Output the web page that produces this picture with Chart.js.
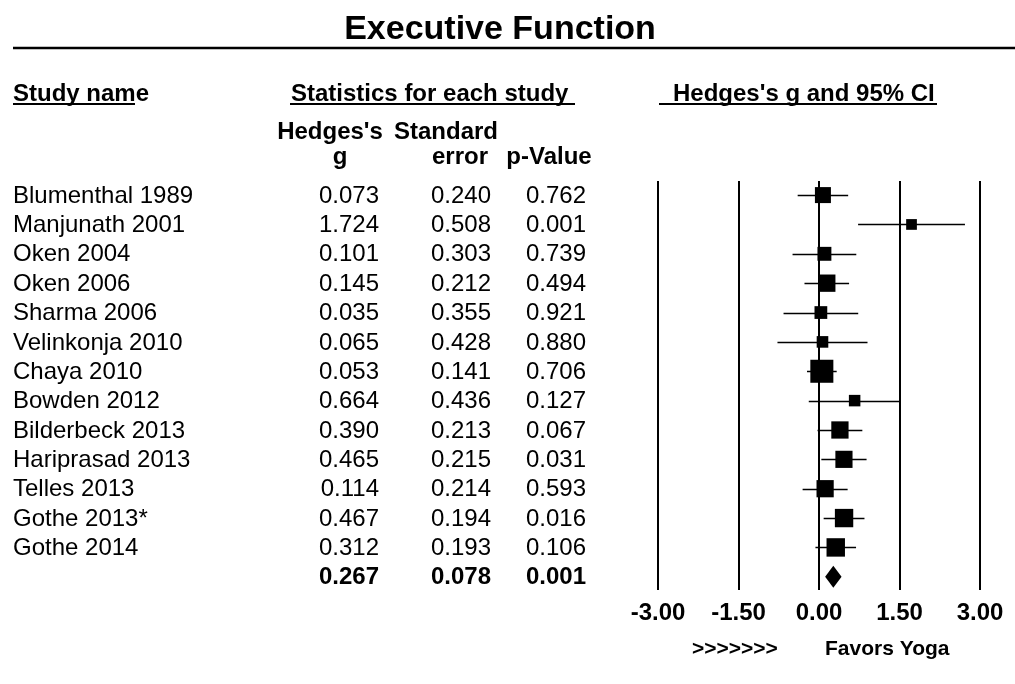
<!DOCTYPE html>
<html>
<head>
<meta charset="utf-8">
<script src="https://cdn.jsdelivr.net/npm/chart.js@4.4.1/dist/chart.umd.min.js"></script>
<style>
  body { margin: 0; background: #fff; }
  canvas { display: block; }
</style>
</head>
<body>
<canvas id="forestChart" width="1015" height="684"></canvas>
<script>
// study data
var studies = ["Blumenthal 1989", "Manjunath 2001", "Oken 2004", "Oken 2006", "Sharma 2006",
    "Velinkonja 2010", "Chaya 2010", "Bowden 2012", "Bilderbeck 2013", "Hariprasad 2013",
    "Telles 2013", "Gothe 2013*", "Gothe 2014"];
var hedgesG = [0.073, 1.724, 0.101, 0.145, 0.035, 0.065, 0.053, 0.664, 0.390, 0.465, 0.114, 0.467, 0.312];
var stdErr = [0.240, 0.508, 0.303, 0.212, 0.355, 0.428, 0.141, 0.436, 0.213, 0.215, 0.214, 0.194, 0.193];
var pValue = [0.762, 0.001, 0.739, 0.494, 0.921, 0.880, 0.706, 0.127, 0.067, 0.031, 0.593, 0.016, 0.106];

// pooled result
var summaryG = [0.267];
var summarySE = [0.078];
var summaryP = [0.001];

var xTicks = [-3, -1.5, 0, 1.5, 3];

var FONT = "Arial, 'Liberation Sans', sans-serif";

var points = hedgesG.map(function (g, i) { return { x: g, y: i }; });
var summaryRow = studies.length;

// lines, diamond and table text
var forestPlugin = {
    id: 'forest',
    beforeDatasetsDraw: function (chart) {
        var ctx = chart.ctx, x = chart.scales.x, y = chart.scales.y;
        ctx.save();
        ctx.strokeStyle = '#000';
        ctx.lineWidth = 1.5;
        hedgesG.forEach(function (g, i) {
            var lo = g - 1.96 * stdErr[i], hi = g + 1.96 * stdErr[i];
            var py = Math.round(y.getPixelForValue(i)) + 0.5;
            ctx.beginPath();
            ctx.moveTo(x.getPixelForValue(lo), py);
            ctx.lineTo(x.getPixelForValue(hi), py);
            ctx.stroke();
        });
        // summary diamond
        var sg = summaryG[0], sse = summarySE[0];
        var cy = y.getPixelForValue(summaryRow);
        ctx.fillStyle = '#000';
        ctx.beginPath();
        ctx.moveTo(x.getPixelForValue(sg - 1.96 * sse), cy);
        ctx.lineTo(x.getPixelForValue(sg), cy - 11);
        ctx.lineTo(x.getPixelForValue(sg + 1.96 * sse), cy);
        ctx.lineTo(x.getPixelForValue(sg), cy + 11);
        ctx.closePath();
        ctx.fill();
        ctx.restore();
    },
    afterDraw: function (chart) {
        var ctx = chart.ctx, y = chart.scales.y;
        ctx.save();
        ctx.fillStyle = '#000';
        ctx.strokeStyle = '#000';

        // title
        ctx.font = 'bold 34px ' + FONT;
        ctx.textAlign = 'center';
        ctx.textBaseline = 'alphabetic';
        ctx.fillText('Executive Function', 500, 39);
        ctx.lineWidth = 2.5;
        ctx.beginPath();
        ctx.moveTo(13, 48);
        ctx.lineTo(1015, 48);
        ctx.stroke();

        // group headers with underlines
        ctx.font = 'bold 24px ' + FONT;
        ctx.textAlign = 'left';
        ctx.fillText('Study name', 13, 101);
        ctx.fillText('Statistics for each study', 291, 101);
        ctx.fillText("Hedges's g and 95% CI", 673, 101);
        ctx.lineWidth = 2;
        [[13, 135], [290, 575], [659, 937]].forEach(function (u) {
            ctx.beginPath();
            ctx.moveTo(u[0], 104);
            ctx.lineTo(u[1], 104);
            ctx.stroke();
        });

        // column headers
        ctx.textAlign = 'center';
        ctx.fillText("Hedges's", 330, 139);
        ctx.fillText('g', 340, 164);
        ctx.fillText('Standard', 446, 139);
        ctx.fillText('error', 460, 164);
        ctx.fillText('p-Value', 549, 164);

        // table rows
        ctx.textBaseline = 'middle';
        ctx.font = '24px ' + FONT;
        studies.forEach(function (name, i) {
            var py = y.getPixelForValue(i) + 1;
            ctx.textAlign = 'left';
            ctx.fillText(name, 13, py);
            ctx.textAlign = 'right';
            ctx.fillText(hedgesG[i].toFixed(3), 379, py);
            ctx.fillText(stdErr[i].toFixed(3), 491, py);
            ctx.fillText(pValue[i].toFixed(3), 586, py);
        });
        ctx.font = 'bold 24px ' + FONT;
        var sy = y.getPixelForValue(summaryRow) + 1;
        ctx.fillText(summaryG[0].toFixed(3), 379, sy);
        ctx.fillText(summarySE[0].toFixed(3), 491, sy);
        ctx.fillText(summaryP[0].toFixed(3), 586, sy);

        // axis caption
        ctx.font = 'bold 21px ' + FONT;
        ctx.textAlign = 'left';
        ctx.textBaseline = 'alphabetic';
        ctx.fillText('>>>>>>>', 692, 655);
        ctx.fillText('Favors Yoga', 825, 655);
        ctx.restore();
    }
};

var ctx = document.getElementById("forestChart");
var forestChart = new Chart(ctx, {
    type: 'scatter',
    data: {
        datasets: [{
            data: points,
            backgroundColor: '#000',
            borderColor: '#000',
            borderWidth: 0,
            pointStyle: 'rect',
            pointRadius: function (c) {
                var side = 6 + 2.4 / stdErr[c.dataIndex];
                return side / Math.SQRT2;
            }
        }]
    },
    options: {
        responsive: false,
        animation: false,
        events: [],
        layout: { padding: { left: 658, right: 35, top: 181, bottom: 54 } },
        plugins: {
            legend: { display: false },
            tooltip: { enabled: false }
        },
        scales: {
            x: {
                type: 'linear',
                min: -3,
                max: 3,
                afterBuildTicks: function (scale) {
                    scale.ticks = xTicks.map(function (v) { return { value: v }; });
                },
                afterFit: function (scale) { scale.height = 40; },
                grid: { color: '#000', lineWidth: 2, drawTicks: false },
                border: { display: false },
                ticks: {
                    padding: 9,
                    color: '#000',
                    font: { family: FONT, size: 24, weight: 'bold' },
                    callback: function (v) { return Number(v).toFixed(2); }
                }
            },
            y: {
                type: 'linear',
                display: false,
                reverse: true,
                min: -0.48,
                max: 13.45
            }
        }
    },
    plugins: [forestPlugin]
});
</script>
</body>
</html>
